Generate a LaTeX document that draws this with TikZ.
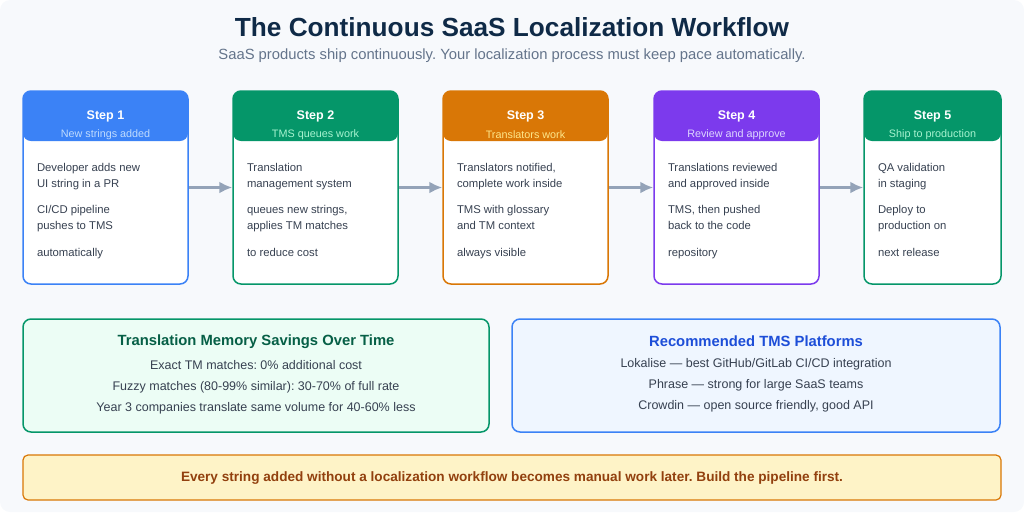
\documentclass[tikz,border=0pt]{standalone}
\usepackage{fontspec}
\setmainfont{Liberation Sans}
\usetikzlibrary{positioning,arrows.meta}
\frenchspacing

\definecolor{pagebg}{HTML}{F7F9FC}
\definecolor{titleblue}{HTML}{0F2A47}
\definecolor{subgray}{HTML}{64748B}
\definecolor{bodygray}{HTML}{374151}
\definecolor{arrowgray}{HTML}{94A3B8}
\definecolor{stepblue}{HTML}{3B82F6}
\definecolor{stepbluelt}{HTML}{BFDBFE}
\definecolor{stepgreen}{HTML}{059669}
\definecolor{stepgreenlt}{HTML}{A7F3D0}
\definecolor{steporange}{HTML}{D97706}
\definecolor{steporangelt}{HTML}{FDE68A}
\definecolor{steppurple}{HTML}{7C3AED}
\definecolor{steppurplelt}{HTML}{DDD6FE}
\definecolor{tmfill}{HTML}{ECFDF5}
\definecolor{tmtitle}{HTML}{065F46}
\definecolor{platfill}{HTML}{EFF6FF}
\definecolor{plattitle}{HTML}{1D4ED8}
\definecolor{notefill}{HTML}{FEF3C7}
\definecolor{notetext}{HTML}{92400E}

\tikzset{
  card/.style={draw=#1, line width=1.5pt, fill=white, rounded corners=8pt,
               minimum height=193pt, inner sep=0pt},
  head/.style={fill=#1, rounded corners=8pt, minimum height=50pt, inner sep=0pt},
  bodytext/.style={align=left, inner sep=0pt, text=bodygray,
                   font=\fontsize{11.3}{16}\selectfont},
  panel/.style={draw=#1, line width=1.5pt, rounded corners=8pt,
                minimum width=466pt, minimum height=113pt, inner sep=0pt},
  paneltext/.style={align=center, inner sep=0pt, text=bodygray,
                    font=\fontsize{12.5}{21}\selectfont},
  flow/.style={-{Latex[length=13pt,width=12pt]}, arrowgray, line width=2.5pt}
}

\begin{document}
\begin{tikzpicture}[x=1pt,y=-1pt]
\fill[pagebg, rounded corners=10pt] (0,0) rectangle (1024,512);
\useasboundingbox (0,0) rectangle (1024,512);

% title
\node[font=\fontsize{26.2}{30}\selectfont\bfseries, text=titleblue] (title) at (512,27.5) {The Continuous SaaS Localization Workflow};
\node[font=\fontsize{14.8}{17}\selectfont, text=subgray] (subtitle) at (512,56) {SaaS products ship continuously. Your localization process must keep pace automatically.};

% steps
\foreach \i/\x/\w/\c/\l/\sub/\txt in {
  1/105.5/165/stepblue/stepbluelt/New strings added/{Developer adds new\\UI string in a PR\\[10pt]CI/CD pipeline\\pushes to TMS\\[11pt]automatically},
  2/315.5/165/stepgreen/stepgreenlt/TMS queues work/{Translation\\management system\\[10pt]queues new strings,\\applies TM matches\\[11pt]to reduce cost},
  3/525.5/165/steporange/steporangelt/Translators work/{Translators notified,\\complete work inside\\[10pt]TMS with glossary\\and TM context\\[11pt]always visible},
  4/736.5/165/steppurple/steppurplelt/Review and approve/{Translations reviewed\\and approved inside\\[10pt]TMS, then pushed\\back to the code\\[11pt]repository},
  5/932.5/137/stepgreen/stepgreenlt/Ship to production/{QA validation\\in staging\\[10pt]Deploy to\\production on\\[11pt]next release}}{
  \node[card=\c, minimum width=\w pt] (s\i) at (\x,187.5) {};
  \node[head=\c, minimum width=\w pt] (h\i) at (\x,116) {};
  \node[font=\fontsize{12.5}{15}\selectfont\bfseries, text=white] (n\i) at (\x,116.5) {Step \i};
  \node[font=\fontsize{10.8}{13}\selectfont, text=\l] (u\i) at (\x,134.5) {\sub};
  \node[bodytext, anchor=north west, below right=22pt and 14pt of h\i.south west] (b\i) {\txt};
}

\foreach \a/\b in {1/2,2/3,3/4,4/5}
  \draw[flow] (s\a) -- (s\b);

% translation memory panel
\node[panel=stepgreen, fill=tmfill] (tm) at (256,375.5) {};
\node[font=\fontsize{14.8}{17}\selectfont\bfseries, text=tmtitle] (tmhead) at (256,341.5) {Translation Memory Savings Over Time};
\node[paneltext, below=8pt of tmhead] (tmlines) {Exact TM matches: 0\% additional cost\\Fuzzy matches (80-99\% similar): 30-70\% of full rate\\Year 3 companies translate same volume for 40-60\% less};

% platforms panel
\node[panel=stepblue, fill=platfill, minimum width=488pt] (plat) at (756,375.5) {};
\node[font=\fontsize{14.8}{17}\selectfont\bfseries, text=plattitle] (plathead) at (756,341.5) {Recommended TMS Platforms};
\node[paneltext, below=8pt of plathead] (platlines) {Lokalise — best GitHub/GitLab CI/CD integration\\Phrase — strong for large SaaS teams\\Crowdin — open source friendly, good API};

% bottom note
\node[draw=steporange, fill=notefill, line width=1.2pt, rounded corners=5pt, minimum width=978pt, minimum height=45pt] (note) at (512,477.5) {};
\node[font=\fontsize{13.6}{16}\selectfont\bfseries, text=notetext] (notetxt) at (512,478) {Every string added without a localization workflow becomes manual work later. Build the pipeline first.};
\end{tikzpicture}
\end{document}
